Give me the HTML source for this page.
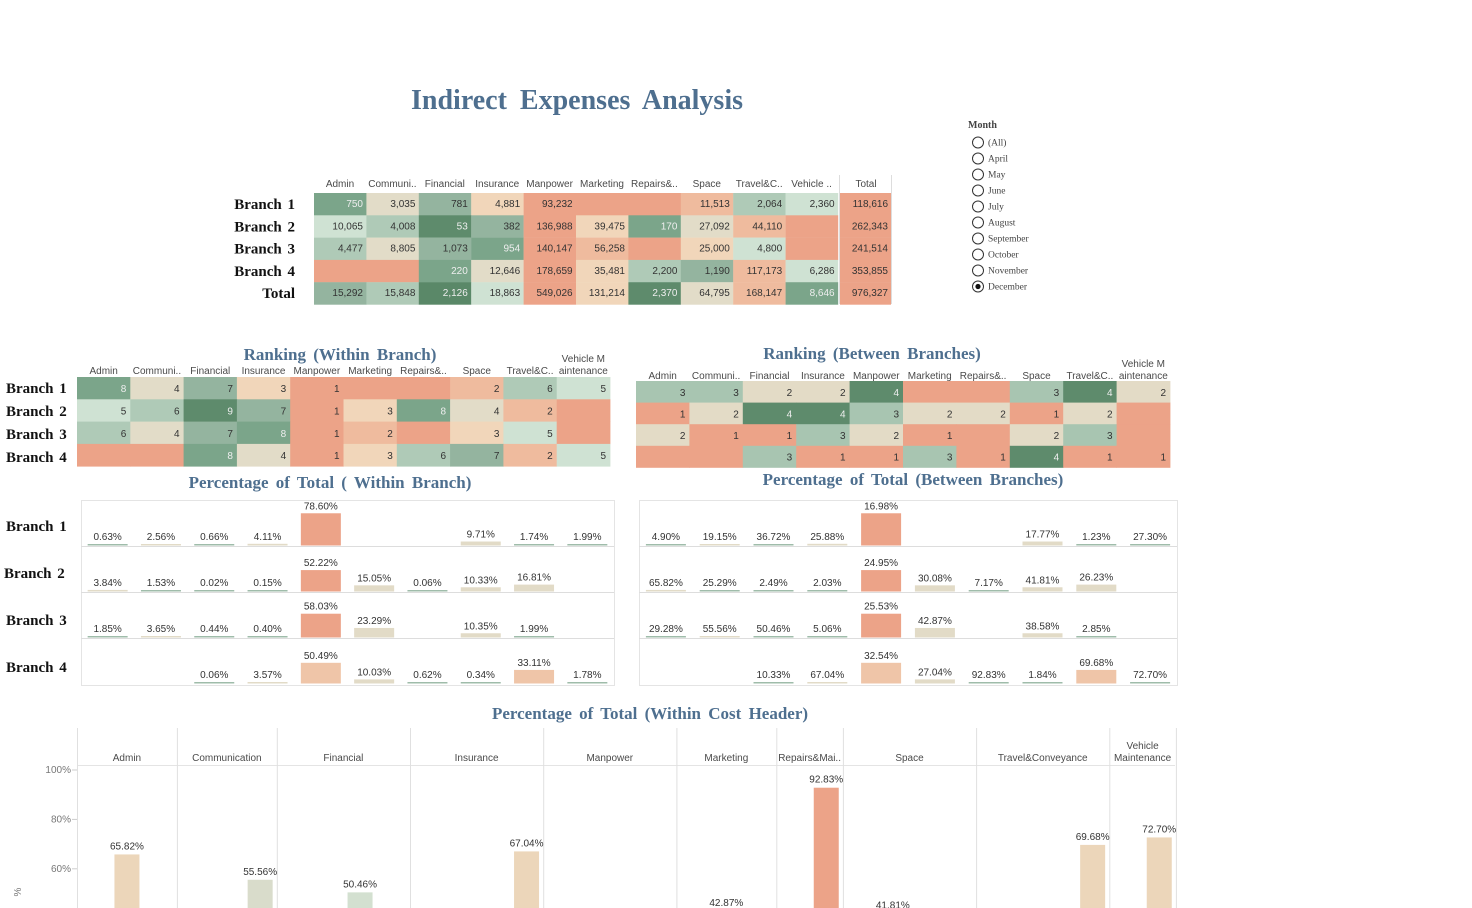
<!DOCTYPE html>
<html><head><meta charset="utf-8"><style>
html,body{margin:0;padding:0;background:#fff;}
svg{display:block;}
.hd{font-family:"Liberation Sans",sans-serif;font-size:10px;fill:#4a4a4a;}
.v{font-family:"Liberation Sans",sans-serif;font-size:10px;fill:#333;}
.br{font-family:"Liberation Serif",serif;font-size:15px;font-weight:bold;fill:#111;word-spacing:2px;}
.tt{font-family:"Liberation Serif",serif;font-size:17px;font-weight:bold;fill:#4e6f8f;word-spacing:3px;}
.rd{font-family:"Liberation Serif",serif;font-size:9.5px;fill:#444;}
</style></head><body>
<svg id="s" width="1472" height="908" xmlns="http://www.w3.org/2000/svg">
<text x="577" y="109" text-anchor="middle" style="font-family:'Liberation Serif',serif;font-size:28px;font-weight:bold;fill:#4e6f8f;word-spacing:6px">Indirect Expenses Analysis</text>
<text class="tt" x="340" y="360" text-anchor="middle">Ranking (Within Branch)</text>
<text class="tt" x="872" y="359" text-anchor="middle">Ranking (Between Branches)</text>
<text class="tt" x="330" y="488" text-anchor="middle">Percentage of Total ( Within Branch)</text>
<text class="tt" x="913" y="485" text-anchor="middle">Percentage of Total (Between Branches)</text>
<text class="tt" x="650" y="719" text-anchor="middle">Percentage of Total (Within Cost Header)</text>
<g id="g"></g>
</svg>
<script>
const categories=["Admin","Communi..","Financial","Insurance","Manpower","Marketing","Repairs&..","Space","Travel&C..","Vehicle .."];
const fullCategories=["Admin","Communication","Financial","Insurance","Manpower","Marketing","Repairs&Mai..","Space","Travel&Conveyance","Vehicle Maintenance"];
const branches=["Branch 1","Branch 2","Branch 3","Branch 4"];
const amounts=[
[750,3035,781,4881,93232,null,null,11513,2064,2360],
[10065,4008,53,382,136988,39475,170,27092,44110,null],
[4477,8805,1073,954,140147,56258,null,25000,4800,null],
[null,null,220,12646,178659,35481,2200,1190,117173,6286]];
const branchTotals=[118616,262343,241514,353855];
const colTotals=[15292,15848,2126,18863,549026,131214,2370,64795,168147,8646];
const grandTotal=976327;
const rankWithin=[
[8,4,7,3,1,null,null,2,6,5],
[5,6,9,7,1,3,8,4,2,null],
[6,4,7,8,1,2,null,3,5,null],
[null,null,8,4,1,3,6,7,2,5]];
const rankBetween=[
[3,3,2,2,4,null,null,3,4,2],
[1,2,4,4,3,2,2,1,2,null],
[2,1,1,3,2,1,null,2,3,null],
[null,null,3,1,1,3,1,4,1,1]];
const pctWithin=[
[0.63,2.56,0.66,4.11,78.60,null,null,9.71,1.74,1.99],
[3.84,1.53,0.02,0.15,52.22,15.05,0.06,10.33,16.81,null],
[1.85,3.65,0.44,0.40,58.03,23.29,null,10.35,1.99,null],
[null,null,0.06,3.57,50.49,10.03,0.62,0.34,33.11,1.78]];
const pctBetween=[
[4.90,19.15,36.72,25.88,16.98,null,null,17.77,1.23,27.30],
[65.82,25.29,2.49,2.03,24.95,30.08,7.17,41.81,26.23,null],
[29.28,55.56,50.46,5.06,25.53,42.87,null,38.58,2.85,null],
[null,null,10.33,67.04,32.54,27.04,92.83,1.84,69.68,72.70]];
const headerMaxPct=[65.82,55.56,50.46,67.04,32.54,42.87,92.83,41.81,69.68,72.70];
const headerMaxSlot=[1,2,2,3,3,1,1,1,3,1];
const headerSlots=[3,3,4,4,4,3,2,4,4,2];
const yTicks=[100,80,60];
const months=["(All)","April","May","June","July","August","September","October","November","December"];
const selectedMonth="December";

const NS="http://www.w3.org/2000/svg",G=document.getElementById('g');
function el(t,a,txt){const e=document.createElementNS(NS,t);for(const k in a)e.setAttribute(k,a[k]);if(txt!=null)e.textContent=txt;G.appendChild(e);return e;}
const fmt=v=>v.toLocaleString('en-US');
const SAL='#eca388';
const withinCol={1:SAL,2:'#efbb9e',3:'#f1d6ba',4:'#e2dcc8',5:'#cfe2d3',6:'#afcab7',7:'#94b49f',8:'#7ba58a',9:'#5e8b6c',10:'#5a8868'};
const betweenCol={1:SAL,2:'#e3dbc6',3:'#a8c5b1',4:'#5e8b6c'};
const txtCol=c=>(c==='#5e8b6c'||c==='#7ba58a'||c==='#5a8868')?'#eee':'#333';

const tx=c=>314+c*52.4, ty=r=>193+r*22.3;
categories.forEach((c,i)=>{const t=el('text',{class:'hd',x:tx(i)+26,y:187,'text-anchor':'middle'},c);});
{const t=el('text',{class:'hd',x:866,y:187,'text-anchor':'middle'},'Total');}
branches.concat(['Total']).forEach((b,r)=>{const t=el('text',{class:'br',x:295,y:ty(r)+16,'text-anchor':'end'},b);});
const totRank=colTotals.map(v=>colTotals.filter(x=>x>v).length+1);
for(let r=0;r<5;r++){for(let c=0;c<10;c++){
 const v=r<4?amounts[r][c]:colTotals[c];
 const col=r<4?(rankWithin[r][c]?withinCol[rankWithin[r][c]]:SAL):withinCol[totRank[c]];
 const rc=el('rect',{x:tx(c),y:ty(r),width:52.6,height:22.5,fill:col});
 
 if(v!=null){const t=el('text',{class:'v',x:tx(c)+49,y:ty(r)+14,'text-anchor':'end',style:'fill:'+txtCol(col)},fmt(v));}
}
 const v=r<4?branchTotals[r]:grandTotal;
 const rc=el('rect',{x:840,y:ty(r),width:51,height:22.5,fill:SAL});
 
 const t=el('text',{class:'v',x:888,y:ty(r)+14,'text-anchor':'end'},fmt(v));
}
el('line',{x1:839.5,y1:175,x2:839.5,y2:304,stroke:'#ddd'});
el('line',{x1:891.5,y1:175,x2:891.5,y2:304,stroke:'#ddd'});

function rankTable(x0,y0,w,h,data,cmap,hy,name){
 categories.forEach((c,i)=>{
  if(i===9){el('text',{class:'hd',x:x0+i*w+w/2,y:hy-12,'text-anchor':'middle'},'Vehicle  M');const t=el('text',{class:'hd',x:x0+i*w+w/2,y:hy,'text-anchor':'middle'},'aintenance');}
  else{const t=el('text',{class:'hd',x:x0+i*w+w/2,y:hy,'text-anchor':'middle'},c);}
 });
 data.forEach((row,r)=>row.forEach((v,c)=>{
  const col=v?cmap[v]:SAL;
  const rc=el('rect',{x:x0+c*w,y:y0+r*h,width:w+0.4,height:h+0.4,fill:col});
  
  if(v!=null){const t=el('text',{class:'v',x:x0+c*w+w-4,y:y0+r*h+h/2+4,'text-anchor':'end',style:'fill:'+txtCol(col)},v);}
 }));
}
rankTable(77,377,53.3,22.3,rankWithin,withinCol,374,'rank-within');
rankTable(636,381,53.4,21.6,rankBetween,betweenCol,379,'rank-between');
branches.forEach((b,r)=>{const t=el('text',{class:'br',x:6,y:393+r*23,}, b);});

function pctColor(r,c){const rk=rankWithin[r][c];if(rk===1)return r===3?'#efc5a8':SAL;if(r===3&&rk===2)return '#efc5a8';return (rk>=5&&pctWithin[r][c]<3)?'#9fbcaa':'#e2dbc7';}
function pctPanel(x0,x1,labels,name){
 const w=(x1-x0)/10, h=46, y0=500;
 el('rect',{x:x0+0.5,y:y0+0.5,width:x1-x0,height:4*h+1,fill:'none',stroke:'#e4e4e4'});
 for(let r=0;r<4;r++){
  if(r>0)el('line',{x1:x0,y1:y0+r*h+0.5,x2:x1,y2:y0+r*h+0.5,stroke:'#ddd'});
  for(let c=0;c<10;c++){
   const v=pctWithin[r][c];if(v==null)continue;
   const base=y0+(r+1)*h-0.5, bh=Math.max(1.5,v*0.41);
   const b=el('rect',{x:x0+c*w+w/2-20,y:base-bh,width:40,height:bh,fill:pctColor(r,c)});
   
   const t=el('text',{class:'v',x:x0+c*w+w/2,y:base-bh-4,'text-anchor':'middle'},labels[r][c].toFixed(2)+'%');
   
  }
 }
}
pctPanel(81,614,pctWithin,'pct-within');
pctPanel(639,1177,pctBetween,'pct-between');
branches.forEach((b,r)=>{const t=el('text',{class:'br',x:r===1?4:6,y:531+r*47,}, b);});

const colW=headerSlots.map(s=>s*33.3);
let xs=[77];colW.forEach(w=>xs.push(xs[xs.length-1]+w));
const yB=v=>770+(100-v)*2.47;
el('line',{x1:77,y1:765.5,x2:1175,y2:765.5,stroke:'#e4e4e4'});
xs.forEach(x=>el('line',{x1:x+0.5,y1:728,x2:x+0.5,y2:908,stroke:'#e0e0e0'}));
fullCategories.forEach((c,i)=>{
 const cx=(xs[i]+xs[i+1])/2;
 if(i===9){el('text',{class:'hd',x:cx,y:749,'text-anchor':'middle'},'Vehicle');const t=el('text',{class:'hd',x:cx,y:761,'text-anchor':'middle'},'Maintenance');}
 else{const t=el('text',{class:'hd',x:cx,y:761,'text-anchor':'middle'},c);}
 const v=headerMaxPct[i], bx=xs[i]+(headerMaxSlot[i]+0.5)*33.3;
 const col=v>90?SAL:v>65?'#ecd6ba':v>52?'#d9dccb':'#d3e0d0';
 const b=el('rect',{x:bx-12.5,y:yB(v),width:25,height:908-yB(v)+5,fill:col});
 
 const t=el('text',{class:'v',x:bx,y:yB(v)-5,'text-anchor':'middle'},v.toFixed(2)+'%');
 
});
yTicks.forEach(v=>{const t=el('text',{class:'hd',x:71,y:yB(v)+3,'text-anchor':'end',style:'fill:#777'},v+'%');el('line',{x1:72,y1:yB(v),x2:77,y2:yB(v),stroke:'#ccc'});});
{const t=el('text',{class:'hd',x:0,y:0,transform:'translate(21,892) rotate(-90)','text-anchor':'middle',style:'fill:#777'},'%');}

{const t=el('text',{x:968,y:128,style:"font-family:'Liberation Serif',serif;font-size:10px;font-weight:bold;fill:#444"},'Month');}
months.forEach((m,i)=>{
 const y=142+i*16;
 const c=el('circle',{cx:978,cy:y+0.5,r:5.5,fill:'#fff',stroke:'#333','stroke-width':1});
 
 if(m===selectedMonth)el('circle',{cx:978,cy:y+0.5,r:2.6,fill:'#111'});
 const t=el('text',{class:'rd',x:988,y:y+3.5},m);
});
</script>
</body></html>
